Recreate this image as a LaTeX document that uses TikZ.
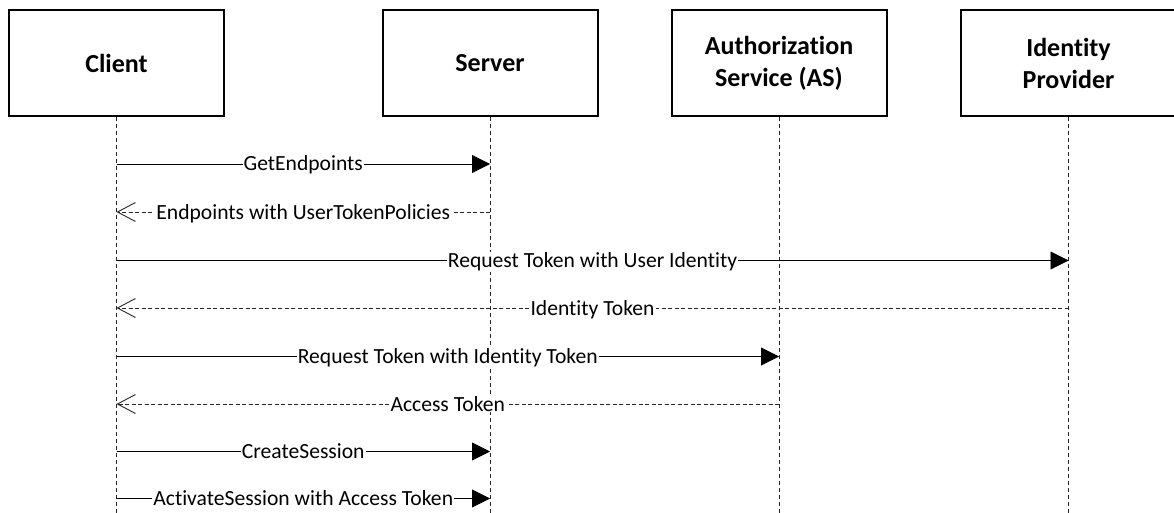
\documentclass[tikz,border=0pt]{standalone}
\usepackage{fontspec}
\setmainfont[Ligatures=NoCommon]{Carlito}
\usetikzlibrary{arrows.meta}
\begin{document}
\begin{tikzpicture}[x=1pt,y=-1pt,
  actor/.style={draw=black,line width=2pt,fill=white,minimum width=215pt,minimum height=105.5pt,
    inner sep=0pt,align=center,font=\fontsize{26}{32}\selectfont\bfseries},
  lifeline/.style={draw=black!85,line width=0.9pt,dash pattern=on 4pt off 3pt},
  call/.style={draw=black,line width=0.9pt,-{Triangle[length=18pt,width=18pt]}},
  reply/.style={draw=black!85,line width=0.9pt,dash pattern=on 4pt off 2.5pt,
    -{Straight Barb[length=18pt,width=19pt,line width=0.9pt]}},
  lbl/.style={fill=white,inner xsep=1pt,inner ysep=1pt,anchor=base,yshift=-7pt,
    font=\fontsize{21.6}{26}\selectfont}]
\useasboundingbox (0,0) rectangle (1174,513);
\clip (0,0) rectangle (1174,513);
\fill[white] (0,0) rectangle (1174,513);
% actors
\node[actor] (client) at (116.5,63) {Client};
\node[actor] (server) at (490,63) {Server};
\node[actor] (as) at (779,63) {Authorization\\Service (AS)};
\node[actor] (idp) at (1068.5,63) {Identity\\Provider};
% lifelines
\coordinate (bot) at (0,514);
\foreach \a in {client,server,as,idp}{
  \draw[lifeline] (\a.south) -- (\a.south |- bot);
}
% message anchor points
\foreach \a/\b in {client/c,server/s,as/a,idp/i}{
  \foreach \n/\y in {1/164,2/212,3/260.5,4/308,5/356.5,6/404,7/451.5,8/498.5}{
    \coordinate (\b\n) at (\a.south |- 0,\y);
  }
}
% messages
\draw[call]  (c1) -- node[lbl]{GetEndpoints} (s1);
\draw[reply] (s2) -- node[lbl]{Endpoints with UserTokenPolicies} (c2);
\draw[call]  (c3) -- node[lbl]{Request Token with User Identity} (i3);
\draw[reply] (i4) -- node[lbl]{Identity Token} (c4);
\draw[call]  (c5) -- node[lbl]{Request Token with Identity Token} (a5);
\draw[reply] (a6) -- node[lbl]{Access Token} (c6);
\draw[call]  (c7) -- node[lbl]{CreateSession} (s7);
\draw[call]  (c8) -- node[lbl]{ActivateSession with Access Token} (s8);
\end{tikzpicture}
\end{document}
